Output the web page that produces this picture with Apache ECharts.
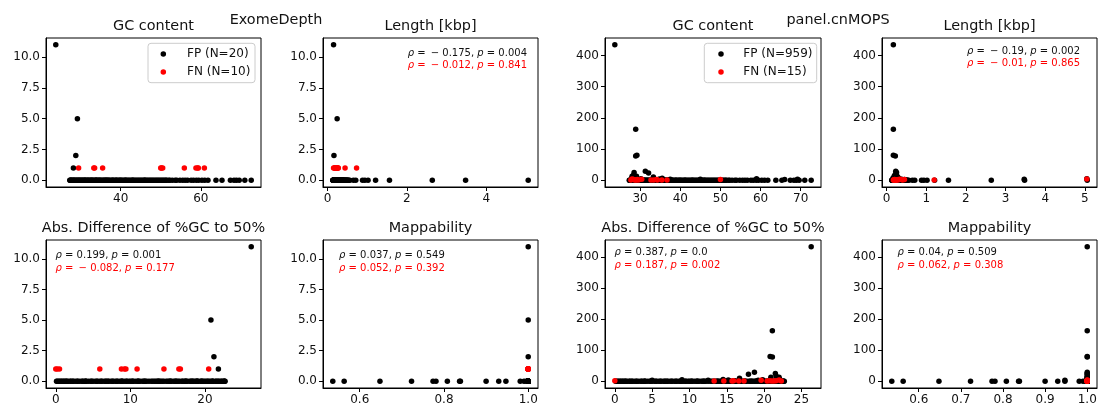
<!DOCTYPE html>
<html><head><meta charset="utf-8">
<script src="https://cdn.jsdelivr.net/npm/echarts@6/dist/echarts.min.js"></script>
<style>html,body{margin:0;padding:0;background:#fff}#c{width:1099px;height:407px}</style>
</head><body><div id="c"></div>
<script>
// ---------- shared background targets (no FP calls in either tool) ----------
const bgGC = [27.4,27.8,28.3,28.6,29.2,29.7,30.3,30.6,31.1,31.7,
  32.0,32.6,33.1,33.4,33.9,34.5,34.8,35.2,35.9,36.3,
  36.6,37.2,37.8,38.1,38.7,39.0,39.6,40.2,40.5,41.1,
  41.4,42.0,42.6,42.9,43.5,43.8,44.4,45.0,45.3,45.9,
  46.2,46.8,47.4,47.7,48.3,48.9,49.2,49.8,50.4,51.0,
  51.5,52.3,52.9,53.6,54.0,54.8,55.5,56.1,56.7,57.6,
  58.2,58.9,59.5,60.3,61.0,61.8,63.8,65.3,67.4,68.3,
  68.9,69.6,71.0,72.6,
  27.5,27.7,28.0,28.2,28.5,28.9,29.0,29.4,29.9,30.1,
  30.5,30.9,31.3,31.5,31.9,32.3,32.8,33.0,33.6,33.8,
  34.2,34.6,35.0,35.5,35.7,36.1,36.8,37.0,37.5,38.4,
  38.9,39.3,39.8,40.0,40.8,41.7,42.3,43.2,44.1,44.7,
  45.6,46.5,47.1,48.0,48.6,49.5,50.1,50.7,51.3,52.0,
  27.3,29.6,31.0,32.5,34.0,36.4,38.0,41.2,43.0,46.0];
const bgLen = [0.14,0.19,0.22,0.16,0.27,0.31,0.18,0.24,0.35,0.13,
  0.21,0.29,0.42,0.17,0.25,0.38,0.20,0.15,0.33,0.47,
  0.23,0.19,0.28,0.52,0.16,0.26,0.36,0.21,0.44,0.18,
  0.30,0.14,0.24,0.40,0.56,0.22,0.17,0.32,0.27,0.49,
  0.19,0.34,0.15,0.25,0.65,0.21,0.39,0.71,0.28,0.18,
  0.88,0.23,0.94,0.31,1.02,0.16,0.45,1.21,0.20,0.26,
  1.56,0.37,2.64,0.22,0.29,3.48,0.18,0.41,5.06,0.24,
  0.33,0.15,0.50,0.27,
  0.16,0.21,0.18,0.25,0.14,0.29,0.19,0.23,0.17,0.34,
  0.20,0.26,0.15,0.31,0.22,0.18,0.43,0.24,0.16,0.28,
  0.37,0.19,0.21,0.14,0.27,0.46,0.23,0.17,0.32,0.20,
  0.25,0.15,0.39,0.22,0.18,0.30,0.26,0.16,0.35,0.21,
  0.19,0.28,0.24,0.53,0.17,0.33,0.20,0.15,0.27,0.22,
  0.41,0.18,0.23,0.29,0.16,0.36,0.25,0.19,0.48,0.21];
const bgMap = [1,1,1,1,1,1,1,0.536,1,1,
  1,1,1,0.563,1,1,1,1,1,1,
  0.648,1,1,1,1,1,0.723,1,1,1,
  1,1,0.774,1,1,1,0.781,1,1,1,
  1,0.808,1,1,1,1,0.837,1,1,0.839,
  1,1,1,0.90,1,1,0.93,1,1,1,
  0.947,1,1,0.981,1,1,0.99,1,1,1,
  0.995,1,1,1,
  1,1,1,1,1,1,1,1,1,1, 1,1,1,1,1,1,1,1,1,1,
  1,1,1,1,1,1,1,1,1,1, 1,1,1,1,1,1,1,1,1,1,
  1,1,1,1,1,1,1,1,1,1, 1,1,1,1,1,1,1,1,1,1];
const bgCount = [0,0,0,0,0,0,0,0,0,0, 0,0,0,0,0,0,0,0,0,0,
  0,0,0,0,0,0,0,0,0,0, 0,0,0,0,0,0,0,0,0,0,
  0,0,0,0,0,0,0,0,0,0, 0,0,0,0,0,0,0,0,0,0,
  0,0,0,0,0,0,0,0,0,0, 0,0,0,0,
  0,0,0,0,0,0,0,0,0,0, 0,0,0,0,0,0,0,0,0,0,
  0,0,0,0,0,0,0,0,0,0, 0,0,0,0,0,0,0,0,0,0,
  0,0,0,0,0,0,0,0,0,0, 0,0,0,0,0,0,0,0,0,0];

// ---------- ExomeDepth ----------
const edFpGC    = [23.8, 29.2, 28.8, 28.2];
const edFpLen   = [0.15, 0.24, 0.16, 0.20];
const edFpMap   = [1, 1, 1, 1];
const edFpCount = [11, 5, 2, 1];
const edFnGC    = [29.5,33.3,33.5,35.5,50.0,50.2,50.5,55.9,58.8,59.2,59.4,60.9];
const edFnLen   = [0.15,0.17,0.18,0.20,0.21,0.22,0.23,0.25,0.26,0.27,0.44,0.73];
const edFnMap   = [1,1,1,1,1,1,1,1,1,1,1,1];
const edFnCount = [1,1,1,1,1,1,1,1,1,1,1,1];

// ---------- panel.cnMOPS ----------
const cnFpGC    = [23.7,28.9,29.2,28.9,28.5,28.4,28.0,29.1,31.3,32.1,33.3,35.5,34.8,30.2,27.9,37.5,45.0,69.2,59.0,66.0];
const cnFpLen   = [0.17,0.17,0.17,0.22,0.25,0.21,0.19,0.26,0.23,0.24,0.28,0.30,0.33,0.20,0.16,0.38,0.29,3.47,5.05,0.45];
const cnFpMap   = [1,1,1,1,1,1,1,1,1,1,1,1,1,1,1,1,0.947,1,1,1];
const cnFpCount = [434,163,80,78,25,17,13,13,29,23,10,6,4,5,6,3,3,3,5,2];
const cnFnGC    = [50.0,36.7,35.4,34.3,34.1,33.4,32.7,30.4,29.6,29.3,29.0,28.7,28.4,28.0,27.7];
const cnFnLen   = [0.20,0.17,1.20,0.25,0.30,0.22,0.28,0.35,0.18,0.45,0.24,0.19,0.32,5.05,0.40];
const cnFnMap   = [1,1,1,1,1,1,1,1,1,1,1,1,1,1,1];
const cnFnCount = [2,1,1,1,2,1,1,3,1,2,1,1,2,4,1];

// ---------- legend labels, titles, ticks, statistics ----------
const edNames = ['FP (N=20)', 'FN (N=10)'];
const cnNames = ['FP (N=959)', 'FN (N=15)'];
const groupTitles = ['ExomeDepth', 'panel.cnMOPS'];
const panelTitles = ['GC content', 'Length [kbp]', 'Abs. Difference of %GC to 50%', 'Mappability'];
const edYTicks = [0, 2.5, 5, 7.5, 10];
const cnYTicks = [0, 100, 200, 300, 400];
const edGcTicks = [40, 60];
const cnGcTicks = [30, 40, 50, 60, 70];
const edLenTicks = [0, 2, 4];
const cnLenTicks = [0, 1, 2, 3, 4, 5];
const edDiffTicks = [0, 10, 20];
const cnDiffTicks = [0, 5, 10, 15, 20, 25];
const edMapTicks = [0.6, 0.8, 1.0];
const cnMapTicks = [0.6, 0.7, 0.8, 0.9, 1.0];
const edLenStats  = [['−0.175','0.004'], ['−0.012','0.841']];
const edDiffStats = [['0.199','0.001'], ['−0.082','0.177']];
const edMapStats  = [['0.037','0.549'], ['0.052','0.392']];
const cnLenStats  = [['−0.19','0.002'], ['−0.01','0.865']];
const cnDiffStats = [['0.387','0.0'], ['0.187','0.002']];
const cnMapStats  = [['0.04','0.509'], ['0.062','0.308']];

// ---------- build ----------
const FONT = 'DejaVu Sans';
const BLACK = '#000000', RED = '#ff0000';
const gcDist = g => Math.abs(g - 50); // |%GC - 50|
function pts(xs, ys, fx) { return xs.map((x, i) => [fx ? fx(x) : x, ys[i]]); }

const grids = [
  {left: 46,  top: 38,  width: 215, height: 149},
  {left: 323, top: 38,  width: 215, height: 149},
  {left: 605, top: 38,  width: 216, height: 149},
  {left: 882, top: 38,  width: 215, height: 149},
  {left: 46,  top: 240, width: 215, height: 148},
  {left: 323, top: 240, width: 215, height: 148},
  {left: 605, top: 240, width: 216, height: 148},
  {left: 882, top: 240, width: 215, height: 148}
].map(g => Object.assign(g, {show: true, borderColor: '#000', borderWidth: 1, backgroundColor: 'transparent', containLabel: false, outerBoundsMode: 'none'}));

const padMin = v => v.min - 0.05 * (v.max - v.min);
const padMax = v => v.max + 0.05 * (v.max - v.min);
function axis(gi, ticks, fmt) {
  return {
    type: 'value', gridIndex: gi, min: padMin, max: padMax,
    axisLine: {show: true, onZero: false, lineStyle: {color: '#000', width: 1}},
    axisTick: {show: true, inside: false, length: 4, customValues: ticks, lineStyle: {color: '#000', width: 1}},
    axisLabel: {show: true, customValues: ticks, formatter: fmt, fontSize: 12, color: '#111', fontFamily: FONT, margin: 6},
    splitLine: {show: false}
  };
}
const f1 = v => Number(v).toFixed(1);
const f0 = v => String(Math.round(v));

const xAxis = [
  axis(0, edGcTicks, f0), axis(1, edLenTicks, f0), axis(2, cnGcTicks, f0), axis(3, cnLenTicks, f0),
  axis(4, edDiffTicks, f0), axis(5, edMapTicks, f1), axis(6, cnDiffTicks, f0), axis(7, cnMapTicks, f1)
];
const yAxis = [
  axis(0, edYTicks, f1), axis(1, edYTicks, f1), axis(2, cnYTicks, f0), axis(3, cnYTicks, f0),
  axis(4, edYTicks, f1), axis(5, edYTicks, f1), axis(6, cnYTicks, f0), axis(7, cnYTicks, f0)
];

function sc(name, gi, data, color) {
  return {type: 'scatter', name, xAxisIndex: gi, yAxisIndex: gi, data, symbol: 'circle', symbolSize: 5.5,
    itemStyle: {color, opacity: 1}, silent: true, animation: false};
}
const series = [];
function panel(gi, names, bgX, fpX, fpY, fnX, fnY, fx) {
  series.push(sc(names[0], gi, pts(bgX, bgCount, fx).concat(pts(fpX, fpY, fx)), BLACK));
  series.push(sc(names[1], gi, pts(fnX, fnY, fx), RED));
}
panel(0, edNames, bgGC,  edFpGC,  edFpCount, edFnGC,  edFnCount);
panel(1, edNames, bgLen, edFpLen, edFpCount, edFnLen, edFnCount);
panel(4, edNames, bgGC,  edFpGC,  edFpCount, edFnGC,  edFnCount, gcDist);
panel(5, edNames, bgMap, edFpMap, edFpCount, edFnMap, edFnCount);
panel(2, cnNames, bgGC,  cnFpGC,  cnFpCount, cnFnGC,  cnFnCount);
panel(3, cnNames, bgLen, cnFpLen, cnFpCount, cnFnLen, cnFnCount);
panel(6, cnNames, bgGC,  cnFpGC,  cnFpCount, cnFnGC,  cnFnCount, gcDist);
panel(7, cnNames, bgMap, cnFpMap, cnFpCount, cnFnMap, cnFnCount);

function txt(x, y, s, extra) {
  return {type: 'text', x, y, silent: true, z: 100,
    style: Object.assign({text: s, fill: '#111', fontSize: 14.4, fontFamily: FONT, align: 'center', verticalAlign: 'middle'}, extra || {})};
}
function stat(x, y, pair, color, align) {
  const rho = pair[0].replace('−', '\u2009− ');
  return txt(x, y, '{i|ρ} = ' + rho + ', {i|p} = ' + pair[1], {
    fill: color, fontSize: 10, align,
    rich: {i: {fontStyle: 'italic', fontFamily: FONT, fontSize: 10, fill: color}}
  });
}
// matplotlib-style legend box: frame, marker handles and labels
function legendBox(names, x, y, w, h, markerX, textX) {
  return [
    {type: 'rect', silent: true, z: 90, shape: {x, y, width: w, height: h, r: 3},
      style: {fill: 'rgba(255,255,255,0.8)', stroke: '#cccccc', lineWidth: 1}},
    {type: 'circle', silent: true, z: 95, shape: {cx: markerX, cy: y + 10.7, r: 2.75}, style: {fill: BLACK}},
    {type: 'circle', silent: true, z: 95, shape: {cx: markerX, cy: y + 28.7, r: 2.75}, style: {fill: RED}},
    txt(textX, y + 10.7, names[0], {fontSize: 12, align: 'left'}),
    txt(textX, y + 28.7, names[1], {fontSize: 12, align: 'left'})
  ];
}
const graphic = [
  txt(276, 20.5, groupTitles[0]), txt(838, 20.5, groupTitles[1]),
  txt(153.5, 26, panelTitles[0]), txt(430.5, 26, panelTitles[1]), txt(713, 26, panelTitles[0]), txt(989.5, 26, panelTitles[1]),
  txt(153.5, 228, panelTitles[2]), txt(430.5, 228, panelTitles[3]), txt(713, 228, panelTitles[2]), txt(989.5, 228, panelTitles[3]),
  stat(527, 53, edLenStats[0], '#111', 'right'), stat(527, 65, edLenStats[1], RED, 'right'),
  stat(1080, 51, cnLenStats[0], '#111', 'right'), stat(1080, 63.5, cnLenStats[1], RED, 'right'),
  stat(55.5, 255.5, edDiffStats[0], '#111', 'left'), stat(55.5, 268, edDiffStats[1], RED, 'left'),
  stat(339, 255.5, edMapStats[0], '#111', 'left'), stat(339, 268, edMapStats[1], RED, 'left'),
  stat(614.5, 252.5, cnDiffStats[0], '#111', 'left'), stat(614.5, 265, cnDiffStats[1], RED, 'left'),
  stat(897.5, 252.5, cnMapStats[0], '#111', 'left'), stat(897.5, 265, cnMapStats[1], RED, 'left')
].concat(
  legendBox(edNames, 148, 43.3, 107, 39.4, 163.3, 187),
  legendBox(cnNames, 704.3, 43.3, 112.4, 39.4, 721, 743.3)
);

const chart = echarts.init(document.getElementById('c'), null, {renderer: 'canvas'});
chart.setOption({
  animation: false,
  backgroundColor: '#ffffff',
  grid: grids, xAxis, yAxis, series,
  graphic
});
</script></body></html>
